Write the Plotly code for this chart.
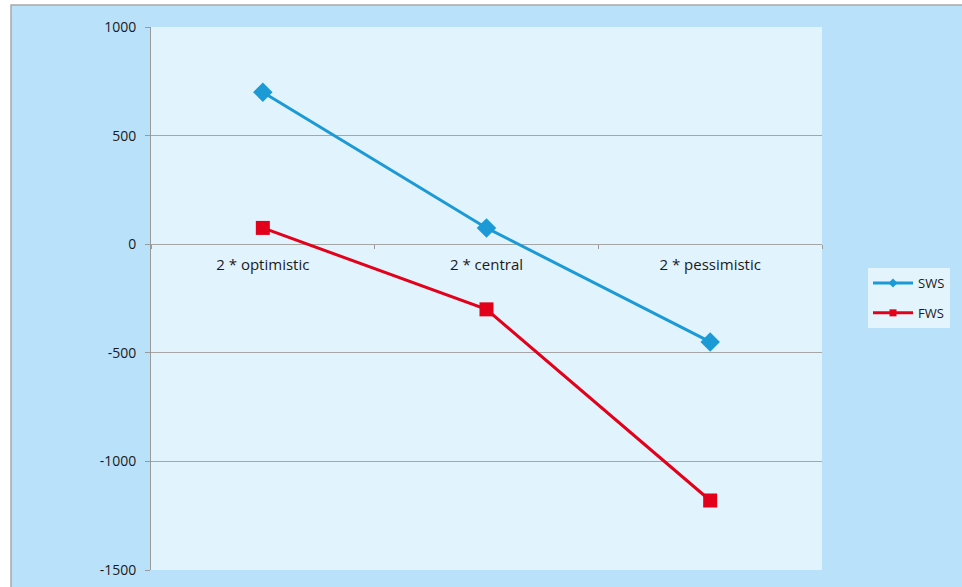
import plotly.graph_objects as go

categories = ["2 * optimistic", "2 * central", "2 * pessimistic"]
sws = [700, 75, -450]
fws = [75, -300, -1180]
y_ticks = [-1500, -1000, -500, 0, 500, 1000]

W, H = 962, 587
L, R, T, B = 151, 822, 27, 570
pw, ph = R - L, B - T

def px(x):
    return (x - L) / pw

def py(y):
    return (B - y) / ph

font = "Open Sans"
txt = "#1a1a1a"
blue = "#1B9AD6"
red = "#E2001A"

fig = go.Figure()
fig.add_trace(go.Scatter(
    x=categories, y=sws, name="SWS", mode="lines+markers", showlegend=False,
    line=dict(color=blue, width=3),
    marker=dict(symbol="diamond", size=15, color=blue),
))
fig.add_trace(go.Scatter(
    x=categories, y=fws, name="FWS", mode="lines+markers", showlegend=False,
    line=dict(color=red, width=3),
    marker=dict(symbol="square", size=14, color=red),
))
# legend entries (no data, legend glyph only)
fig.add_trace(go.Scatter(
    x=[None], y=[None], name="SWS", mode="lines+markers", legendgroup="a",
    line=dict(color=blue, width=3),
    marker=dict(symbol="diamond", size=7, color=blue),
))
fig.add_trace(go.Scatter(
    x=[None], y=[None], name="FWS", mode="lines+markers", legendgroup="b",
    line=dict(color=red, width=3),
    marker=dict(symbol="square", size=7, color=red),
))

fig.update_layout(
    width=W, height=H,
    margin=dict(l=L, r=W - R, t=T, b=H - B, pad=0, autoexpand=False),
    paper_bgcolor="white",
    plot_bgcolor="#E1F3FD",
    font=dict(family=font, size=13, color=txt),
    showlegend=True,
    legend=dict(
        x=px(868), y=py(268), xanchor="left", yanchor="top",
        bgcolor="#E4F4FD", borderwidth=0,
        font=dict(family=font, size=13, color=txt),
        itemsizing="trace", tracegroupgap=10, traceorder="grouped",
        itemwidth=40,
    ),
    xaxis=dict(
        type="category", anchor="free", position=1500 / 2500,
        showgrid=False, showline=False, zeroline=False, automargin=False,
        ticks="outside", ticklen=4, tickcolor="#9a9a9a",
        tickson="boundaries", ticklabelstandoff=10,
        tickfont=dict(family=font, size=15, color=txt),
        range=[-0.5, 2.5],
    ),
    yaxis=dict(
        range=[-1500, 1000], tickvals=y_ticks,
        ticktext=[str(v) for v in y_ticks],
        showgrid=True, gridcolor="#A6A6A6", gridwidth=1,
        zeroline=False, automargin=False,
        showline=True, linecolor="#9a9a9a", linewidth=1,
        ticks="outside", ticklen=5, tickcolor="#9a9a9a",
        ticklabelstandoff=6,
        tickfont=dict(family=font, size=14, color=txt),
    ),
    shapes=[
        dict(type="rect", xref="paper", yref="paper",
             x0=px(11), x1=px(W + 5), y0=py(5), y1=py(H + 5),
             fillcolor="#B9E2FA", line=dict(color="#A8A8A8", width=1.5),
             layer="below"),
        dict(type="rect", xref="paper", yref="paper",
             x0=0, x1=1, y0=0, y1=1,
             fillcolor="#E1F3FD", line=dict(width=0),
             layer="below"),
    ],
)

fig.write_html("out.html", config={"displayModeBar": False},
               post_script="document.body.style.margin='0';document.body.style.padding='0';")
